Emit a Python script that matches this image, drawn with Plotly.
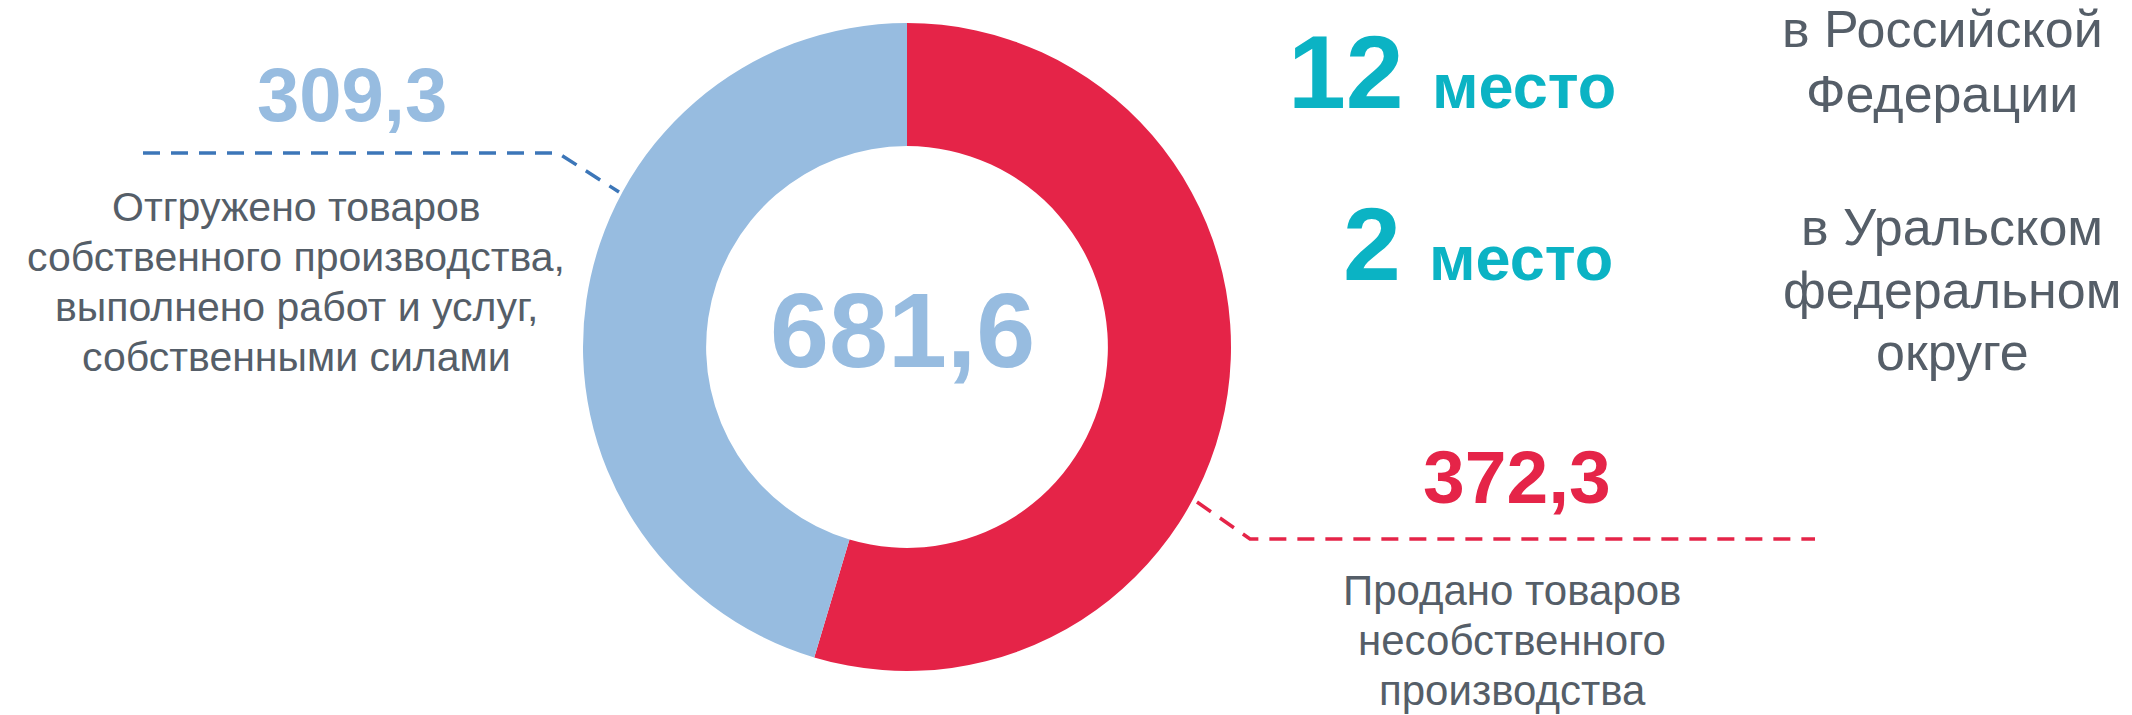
import plotly.graph_objects as go

# ---------------- data ----------------
categories = ["Продано товаров несобственного производства",
              "Отгружено товаров собственного производства, выполнено работ и услуг, собственными силами"]
values = [372.3, 309.3]
total_value = 681.6
red_label_lines = ["Продано товаров", "несобственного", "производства"]
blue_label_lines = ["Отгружено товаров", "собственного производства,",
                    "выполнено работ и услуг,", "собственными силами"]
ranks = [12, 2]
rank_word = "место"
rank_regions = [["в Российской", "Федерации"],
                ["в Уральском", "федеральном", "округе"]]

# ---------------- style ----------------
W, H = 2132, 715
RED = "#E52448"
BLUE = "#97BCE0"
BLUE_LINE = "#3C76B8"
TEAL = "#0BB3C4"
GREY = "#555E68"
FONT = "Liberation Sans, Arial, sans-serif"


def px(x):
    return x / W


def py(y):
    return 1 - y / H


def fmt(v):
    return f"{v:.1f}".replace(".", ",")


def ann(text, x, baseline, size, color, bold=False, xanchor="center"):
    # centre of the svg text box is ~0.3465em above the baseline
    yc = baseline - 0.3465 * size
    t = f"<b>{text}</b>" if bold else text
    return dict(text=t, x=px(x), y=py(yc), xref="paper", yref="paper",
                xanchor=xanchor, yanchor="middle", showarrow=False,
                font=dict(family=FONT, size=size, color=color))


fig = go.Figure()
fig.add_trace(go.Pie(
    labels=categories, values=values, hole=0.62, sort=False,
    direction="clockwise", rotation=0,
    marker=dict(colors=[RED, BLUE], line=dict(width=0)),
    textinfo="none", hoverinfo="label+value", showlegend=False,
    domain=dict(x=[px(583), px(1231)], y=[py(671), py(23)]),
))

annotations = []
# centre total
annotations.append(ann(fmt(total_value), 902, 367, 106, BLUE, bold=True))
# blue value + label
annotations.append(ann(fmt(values[1]), 352, 121, 76, BLUE, bold=True))
for i, line in enumerate(blue_label_lines):
    annotations.append(ann(line, 296, 221 + 50 * i, 41, GREY))
# red value + label
annotations.append(ann(fmt(values[0]), 1517, 503, 75, RED, bold=True))
for i, line in enumerate(red_label_lines):
    annotations.append(ann(line, 1512, 605 + 50 * i, 42, GREY))
# ranks
rank_baselines = [108, 280]
rank_num_right = [1406, 1403]
rank_word_left = [1430, 1427]
for r, b, xr, xl in zip(ranks, rank_baselines, rank_num_right, rank_word_left):
    annotations.append(ann(str(r), xr, b, 104, TEAL, bold=True, xanchor="right"))
    annotations.append(ann(rank_word, xl, b, 63, TEAL, bold=True, xanchor="left"))
# region text
region_baselines = [[47, 112], [245, 308, 370]]
region_centres = [1942, 1952]
for lines, bases, xc in zip(rank_regions, region_baselines, region_centres):
    for line, b in zip(lines, bases):
        annotations.append(ann(line, xc, b, 52, GREY))

shapes = [
    dict(type="path", xref="paper", yref="paper",
         path=f"M {px(143)},{py(153)} L {px(558)},{py(153)} L {px(619)},{py(192)}",
         line=dict(color=BLUE_LINE, width=3.5, dash="17px,11px")),
    dict(type="path", xref="paper", yref="paper",
         path=f"M {px(1197)},{py(502)} L {px(1250)},{py(539)} L {px(1815)},{py(539)}",
         line=dict(color=RED, width=3.5, dash="17px,11px")),
]

fig.update_layout(
    width=W, height=H,
    margin=dict(l=0, r=0, t=0, b=0),
    paper_bgcolor="white", plot_bgcolor="white",
    annotations=annotations, shapes=shapes,
    font=dict(family=FONT),
)

fig.write_html("out.html",
               config={"displayModeBar": False},
               post_script="document.body.style.margin='0';document.body.style.overflow='hidden';")
